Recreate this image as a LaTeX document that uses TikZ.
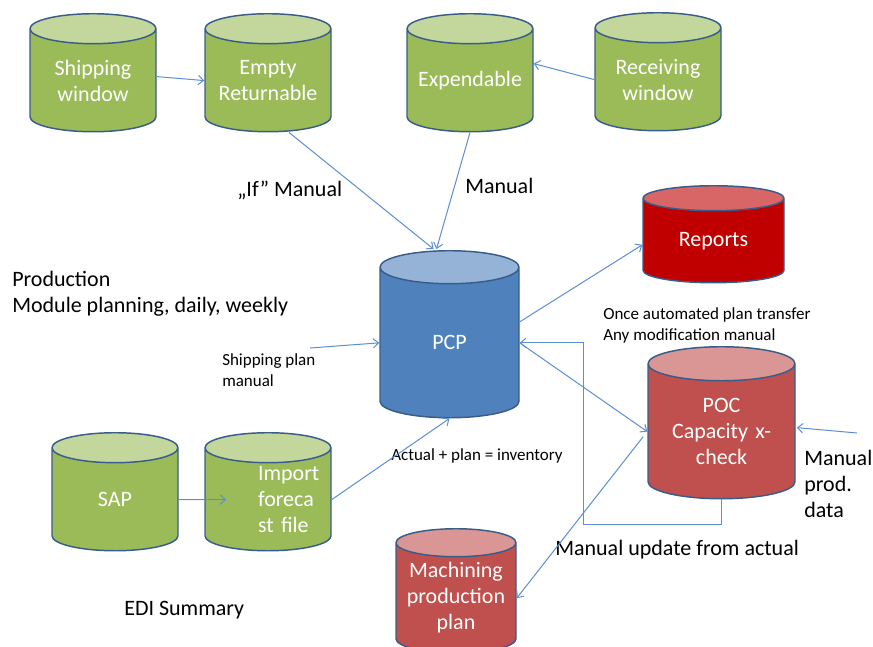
\documentclass[tikz,border=0pt]{standalone}
\usepackage{fontspec}
\setmainfont{Carlito}
\usepackage{xcolor}
\usetikzlibrary{calc, positioning, arrows.meta, shapes.geometric}
\definecolor{dbEdge}{HTML}{385D8A}
\definecolor{lineBlue}{HTML}{5B8ED3}
\definecolor{grnBody}{HTML}{9BBB59}
\definecolor{grnTop}{HTML}{C3D69B}
\definecolor{bluBody}{HTML}{4F81BD}
\definecolor{bluTop}{HTML}{95B3D7}
\definecolor{repBody}{HTML}{C00000}
\definecolor{repTop}{HTML}{D96666}
\definecolor{redBody}{HTML}{C0504D}
\definecolor{redTop}{HTML}{D99694}
\tikzset{
    db/.style={cylinder, shape border rotate=90, draw=dbEdge, line width=1.1pt, cylinder uses custom fill, inner sep=0pt, text width=78pt, text=white, align=center, font=\fontsize{16.5}{19.5}\selectfont, anchor=north},
    greenDb/.style={db, cylinder body fill=grnBody, cylinder end fill=grnTop, minimum width=94.5pt, minimum height=88.5pt, aspect=0.288},
    pcpDb/.style={db, cylinder body fill=bluBody, cylinder end fill=bluTop},
    reportDb/.style={db, cylinder body fill=repBody, cylinder end fill=repTop},
    redDb/.style={db, cylinder body fill=redBody, cylinder end fill=redTop},
    arrow/.style={-{Straight Barb[length=4pt, width=7pt]}, draw=lineBlue, line width=0.75pt},
    label/.style={font=\fontsize{16.5}{19.5}\selectfont, align=left, anchor=west, inner sep=0pt},
    note/.style={font=\fontsize{12.75}{15.75}\selectfont, align=left, anchor=west, inner sep=0pt}
}
\begin{document}
\begin{tikzpicture}[x=0.75pt, y=-0.75pt]
        \useasboundingbox (0,0) rectangle (873,646);

        % top row
        \node[greenDb] (Ship) at (93,13) {Shipping\\window};
        \node[greenDb] (Ret) at (268,13) {Empty\\Returnable};
        \node[greenDb] (Exp) at (470,13) {Expendable};
        \node[greenDb] (Recv) at (658,12) {Receiving\\window};

        % planning
        \node[pcpDb, minimum width=104.25pt, minimum height=125.25pt, aspect=0.317] (PCP) at (449.5,250) {PCP};
        \node[reportDb, minimum width=105.75pt, minimum height=72.75pt, aspect=0.24] (Rep) at (713.5,185) {Reports};
        \node[redDb, minimum width=110.25pt, minimum height=114pt, aspect=0.327] (POC) at (721.5,346) {POC\\Capacity x-\\check};
        \node[redDb, minimum width=90pt, minimum height=93pt, aspect=0.269] (Mach) at (456,528) {Machining\\production\\plan};

        % bottom row
        \node[greenDb] (SAP) at (115,432) {SAP};
        \node[greenDb, align=left] (Imp) at (268,432) {\hspace*{31.5pt}Import\\\hspace*{31.5pt}foreca\\\hspace*{31.5pt}st file};

        % texts
        \node[label] (IfMan) at (237,190) {„If” Manual};
        \node[label] (ExpMan) at (465,186) {Manual};
        \node[label] (Prod) at (12,294) {Production\\Module planning, daily, weekly};
        \node[note] (ShipPlan) at (222,370) {Shipping plan\\manual};
        \node[note] (Inv) at (391,456) {Actual + plan = inventory};
        \node[note] (Once) at (603,325) {Once automated plan transfer\\Any modification manual};
        \node[label] (ManProd) at (804,484) {Manual\\prod.\\data};
        \node[label] (ManUpd) at (555,550) {Manual update from actual};
        \node[label] (EDI) at (124,610) {EDI Summary};

        \coordinate (ShipIn) at (310,348);
        \coordinate (ProdIn) at (857,433);

        \draw[arrow] ($(Ship.east)+(0,-4)$) -- (Ret.west);
        \draw[arrow] (Recv.west) -- ($(Exp.east)+(0,-17)$);
        \draw[arrow] ($(Ret.south)+(21,0)$) -- ($(PCP.north)+(-16,-1)$);
        \draw[arrow] (Exp.south) -- ($(PCP.north)+(-13,-1)$);
        \draw[arrow] ($(PCP.east)+(0,-21)$) -- ($(Rep.west)+(0,4)$);
        \draw[arrow] (ShipIn) -- (PCP.west);
        \draw[arrow] (Imp.east) -- (PCP.south);
        \draw[arrow] (SAP.east) -- ($(Imp.west)+(22,0)$);
        \draw[arrow] (POC.south) -- ++(0,25) -| ($(PCP.east)+(64,0)$) -- (PCP.east);
        \draw[arrow] (PCP.east) -- (POC.west);
        \draw[arrow] ($(POC.west)+(-4,5)$) -- (Mach.east);
        \draw[arrow] (ProdIn) -- ($(POC.east)+(1,-4)$);
    \end{tikzpicture}
\end{document}
